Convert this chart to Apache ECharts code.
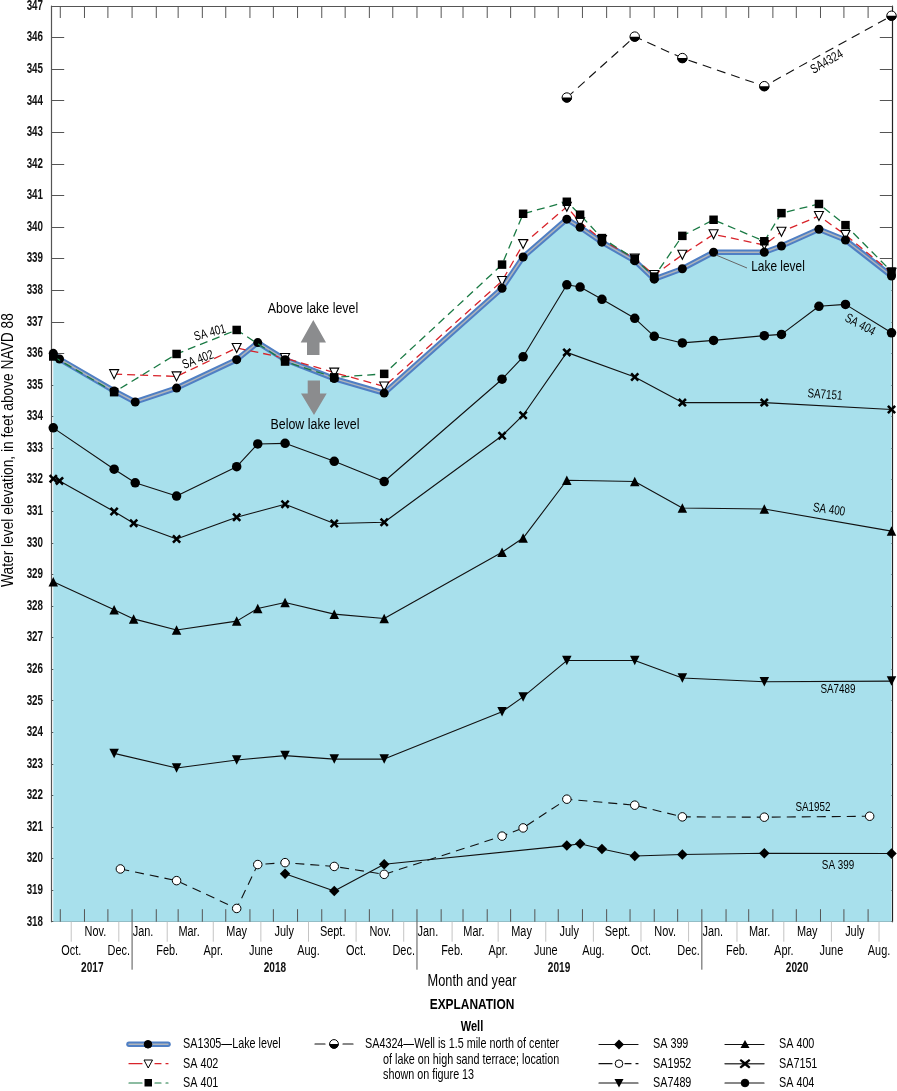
<!DOCTYPE html>
<html>
<head>
<meta charset="utf-8">
<style>
  html, body { margin: 0; padding: 0; background: #fff; }
  #chart { width: 897px; height: 1091px; }
</style>
<script src="https://cdn.jsdelivr.net/npm/echarts@6/dist/echarts.min.js"></script>
</head>
<body>
<div id="chart"></div>
<script>
// well readings, [date, feet above NAVD 88]
const sa1305 = [['2017-09-22', 336.0], ['2017-09-30', 335.82], ['2017-12-09', 334.81], ['2018-01-05', 334.46], ['2018-02-27', 334.9], ['2018-05-15', 335.8], ['2018-06-11', 336.34], ['2018-07-16', 335.8], ['2018-09-17', 335.2], ['2018-11-20', 334.74], ['2019-04-20', 338.06], ['2019-05-17', 339.05], ['2019-07-12', 340.25], ['2019-07-29', 339.99], ['2019-08-26', 339.52], ['2019-10-07', 338.93], ['2019-11-01', 338.35], ['2019-12-07', 338.68], ['2020-01-16', 339.2], ['2020-03-21', 339.2], ['2020-04-12', 339.4], ['2020-05-30', 339.93], ['2020-07-03', 339.59], ['2020-08-31', 338.45]]
const sa402 = [['2017-12-09', 335.34], ['2018-02-27', 335.27], ['2018-05-15', 336.17], ['2018-07-16', 335.85], ['2018-09-17', 335.39], ['2018-11-20', 334.95], ['2019-04-20', 338.29], ['2019-05-17', 339.46], ['2019-07-12', 340.64], ['2019-07-29', 340.15], ['2019-08-26', 339.59], ['2019-10-07', 339.0], ['2019-11-01', 338.48], ['2019-12-07', 339.12], ['2020-01-16', 339.77], ['2020-03-21', 339.43], ['2020-04-12', 339.85], ['2020-05-30', 340.35], ['2020-07-03', 339.75], ['2020-08-31', 338.55]]
const sa401 = [['2017-09-22', 335.9], ['2017-12-09', 334.77], ['2018-02-27', 335.98], ['2018-05-15', 336.74], ['2018-07-16', 335.74], ['2018-09-17', 335.24], ['2018-11-20', 335.35], ['2019-04-20', 338.81], ['2019-05-17', 340.42], ['2019-07-12', 340.8], ['2019-07-29', 340.39], ['2019-08-26', 339.65], ['2019-10-07', 338.99], ['2019-11-01', 338.43], ['2019-12-07', 339.72], ['2020-01-16', 340.23], ['2020-03-21', 339.55], ['2020-04-12', 340.44], ['2020-05-30', 340.73], ['2020-07-03', 340.06], ['2020-08-31', 338.59]]
const sa4324 = [['2019-07-12', 344.1], ['2019-10-07', 346.03], ['2019-12-07', 345.35], ['2020-03-21', 344.46], ['2020-08-31', 346.69]]
const sa404 = [['2017-09-22', 333.64], ['2017-12-09', 332.33], ['2018-01-05', 331.9], ['2018-02-27', 331.48], ['2018-05-15', 332.41], ['2018-06-11', 333.13], ['2018-07-16', 333.15], ['2018-09-17', 332.58], ['2018-11-20', 331.94], ['2019-04-20', 335.18], ['2019-05-17', 335.89], ['2019-07-12', 338.17], ['2019-07-29', 338.1], ['2019-08-26', 337.71], ['2019-10-07', 337.11], ['2019-11-01', 336.54], ['2019-12-07', 336.33], ['2020-01-16', 336.41], ['2020-03-21', 336.56], ['2020-04-12', 336.6], ['2020-05-30', 337.49], ['2020-07-03', 337.55], ['2020-08-31', 336.65]]
const sa7151 = [['2017-09-22', 332.03], ['2017-09-30', 331.96], ['2017-12-09', 330.99], ['2018-01-03', 330.62], ['2018-02-27', 330.12], ['2018-05-15', 330.81], ['2018-07-16', 331.22], ['2018-09-17', 330.61], ['2018-11-20', 330.65], ['2019-04-20', 333.39], ['2019-05-17', 334.04], ['2019-07-12', 336.03], ['2019-10-07', 335.25], ['2019-12-07', 334.44], ['2020-03-21', 334.44], ['2020-08-31', 334.22]]
const sa400 = [['2017-09-22', 328.77], ['2017-12-09', 327.88], ['2018-01-03', 327.59], ['2018-02-27', 327.24], ['2018-05-15', 327.52], ['2018-06-11', 327.92], ['2018-07-16', 328.11], ['2018-09-17', 327.74], ['2018-11-20', 327.6], ['2019-04-20', 329.7], ['2019-05-17', 330.15], ['2019-07-12', 331.98], ['2019-10-07', 331.94], ['2019-12-07', 331.1], ['2020-03-21', 331.07], ['2020-08-31', 330.37]]
const sa7489 = [['2017-12-09', 323.33], ['2018-02-27', 322.87], ['2018-05-15', 323.12], ['2018-07-16', 323.26], ['2018-09-17', 323.15], ['2018-11-20', 323.15], ['2019-04-20', 324.65], ['2019-05-17', 325.12], ['2019-07-12', 326.27], ['2019-10-07', 326.27], ['2019-12-07', 325.72], ['2020-03-21', 325.6], ['2020-08-31', 325.62]]
const sa1952 = [['2017-12-17', 319.67], ['2018-02-27', 319.3], ['2018-05-15', 318.42], ['2018-06-11', 319.81], ['2018-07-16', 319.87], ['2018-09-17', 319.75], ['2018-11-20', 319.5], ['2019-04-20', 320.71], ['2019-05-17', 320.97], ['2019-07-12', 321.88], ['2019-10-07', 321.69], ['2019-12-07', 321.32], ['2020-03-21', 321.31], ['2020-08-03', 321.34]]
const sa399 = [['2018-07-16', 319.52], ['2018-09-17', 318.97], ['2018-11-20', 319.82], ['2019-07-12', 320.41], ['2019-07-29', 320.47], ['2019-08-26', 320.3], ['2019-10-07', 320.08], ['2019-12-07', 320.13], ['2020-03-21', 320.17], ['2020-08-31', 320.16]]

const monthNames = ['Jan.', 'Feb.', 'Mar.', 'Apr.', 'May', 'June', 'July', 'Aug.', 'Sept.', 'Oct.', 'Nov.', 'Dec.']
const yearLabels = [['2017-11-11', '2017'], ['2018-07-03', '2018'], ['2019-07-02', '2019'], ['2020-05-02', '2020']]
const yearStarts = ['2018-01-01', '2019-01-01', '2020-01-01']
const elevationTicks = [318, 319, 320, 321, 322, 323, 324, 325, 326, 327, 328, 329, 330, 331, 332, 333, 334, 335, 336, 337, 338, 339, 340, 341, 342, 343, 344, 345, 346, 347]

const FONT = '"Liberation Sans", sans-serif'
const AXIS = '#555'
const NARROW = 0.76 // no condensed face installed, so text is squeezed
const X_SYMBOL = 'path://M2 0L5 3L8 0L10 2L7 5L10 8L8 10L5 7L2 10L0 8L3 5L0 2Z'

// month slots from Oct. 2017 to Aug. 2020: [start, middle, month]
const months = []
for (let i = 0; i < 35; i++) {
  const start = new Date(2017, 9 + i, 1)
  months.push([start.getTime(), new Date(2017, 9 + i, 15).getTime(), start.getMonth()])
}

function wellLine(name, data, symbol, size, extra) {
  return Object.assign({
    name: name,
    type: 'line',
    data: data,
    symbol: symbol,
    symbolSize: size,
    showAllSymbol: true,
    clip: false,
    z: 5,
    lineStyle: { color: '#111', width: 1.1 },
    itemStyle: { color: '#000', opacity: 1 }
  }, extra || {})
}

function monthTicks(params, api) {
  const i = params.dataIndex
  const x = api.coord([api.value(0), 347])[0]
  const mid = api.coord([api.value(1), 318])
  const top = api.coord([api.value(0), 347])[1]
  const bottom = mid[1]
  const firstRow = i % 2 === 1
  const line = (x1, y1, x2, y2, color) => ({
    type: 'line',
    shape: { x1: x1, y1: y1, x2: x2, y2: y2 },
    style: { stroke: color, lineWidth: 1 }
  })
  const children = [
    line(x, top, x, top + 12, AXIS),
    line(x, bottom - 12.5, x, bottom, AXIS),
    {
      type: 'text',
      x: mid[0],
      y: bottom + (firstRow ? 10 : 29.5),
      scaleX: 0.78,
      style: { text: monthNames[api.value(2)], font: '14px ' + FONT, fill: '#000', align: 'center', verticalAlign: 'middle' }
    }
  ]
  if (!firstRow) {
    children.push(line(mid[0], bottom, mid[0], bottom + 20, '#c4c4c4'))
  }
  return { type: 'group', children: children }
}

function yearTicks(params, api) {
  const p = api.coord([api.value(0), 318])
  return {
    type: 'line',
    shape: { x1: p[0], y1: p[1], x2: p[0], y2: p[1] + 48 },
    style: { stroke: AXIS, lineWidth: 1 }
  }
}

function yearText(params, api) {
  const p = api.coord([api.value(0), 318])
  return {
    type: 'text',
    x: p[0],
    y: p[1] + 46.5,
    scaleX: 0.72,
    style: { text: yearLabels[params.dataIndex][1], font: 'bold 14px ' + FONT, fill: '#111', align: 'center', verticalAlign: 'middle' }
  }
}

function elevationText(params, api) {
  const p = api.coord([new Date(2017, 8, 20).getTime(), api.value(1)])
  return {
    type: 'text',
    x: 43,
    y: p[1],
    scaleX: 0.7,
    style: { text: String(api.value(1)), font: 'bold 14px ' + FONT, fill: '#111', align: 'right', verticalAlign: 'middle' }
  }
}

function label(text, x, y, rotate, size, weight, scale) {
  return {
    type: 'text',
    x: x,
    y: y,
    rotation: (rotate || 0) * Math.PI / 180,
    scaleX: scale || NARROW,
    z: 20,
    style: {
      text: text,
      font: (weight || 'normal') + ' ' + (size || 13) + 'px ' + FONT,
      fill: '#000',
      align: 'center',
      verticalAlign: 'middle'
    }
  }
}

function legendText(text, x, y) {
  return {
    type: 'text',
    x: x,
    y: y,
    scaleX: NARROW,
    z: 20,
    style: { text: text, font: '14.2px ' + FONT, fill: '#000', align: 'left', verticalAlign: 'middle' }
  }
}

function legendLine(x1, x2, y, color, dash, width) {
  return {
    type: 'line',
    z: 20,
    shape: { x1: x1, y1: y, x2: x2, y2: y },
    style: { stroke: color, lineWidth: width || 1.2, lineDash: dash || null, lineCap: 'round' }
  }
}

function legendCircle(x, y, r, fill) {
  return { type: 'circle', z: 21, shape: { cx: x, cy: y, r: r }, style: { fill: fill || '#000', stroke: '#000', lineWidth: 1 } }
}

function legendPoly(points, fill) {
  return { type: 'polygon', z: 21, shape: { points: points }, style: { fill: fill || '#000', stroke: '#000', lineWidth: 1 } }
}

const graphics = [
  // y axis title and x axis title
  label('Water level elevation, in feet above NAVD 88', 9, 450, 90, 16, 'normal', 0.86),
  label('Month and year', 472, 982, 0, 16, 'normal', 0.8),
  label('EXPLANATION', 472, 1005, 0, 15.5, 'bold', 0.77),
  label('Well', 472, 1027, 0, 14, 'bold', 0.79),

  // above / below lake level
  label('Above lake level', 313, 309, 0, 15.5, 'normal', 0.8),
  label('Below lake level', 315, 425, 0, 15.5, 'normal', 0.8),
  { type: 'polygon', z: 20, shape: { points: [[313.3, 320], [326, 342.5], [319.5, 342.5], [319.5, 355], [307, 355], [307, 342.5], [300.7, 342.5]] }, style: { fill: '#8b8c8e' } },
  { type: 'polygon', z: 20, shape: { points: [[307.7, 380.5], [320, 380.5], [320, 393.5], [326.7, 393.5], [314, 415], [301, 393.5], [307.7, 393.5]] }, style: { fill: '#8b8c8e' } },

  // well names next to the lines
  label('SA 401', 210, 333, 15),
  label('SA 402', 198, 360, 20),
  label('Lake level', 778, 267, 0, 14.5, 'normal', 0.82),
  { type: 'line', z: 20, shape: { x1: 716, y1: 255, x2: 747, y2: 268 }, style: { stroke: '#666', lineWidth: 1 } },
  label('SA 404', 860, 325, -28),
  label('SA7151', 825, 395, -4),
  label('SA 400', 829, 510, -8),
  label('SA7489', 838, 689, 0),
  label('SA1952', 813, 807, 0),
  label('SA 399', 838, 865, 0),
  label('SA4324', 827, 62, 30),

  // legend
  legendLine(129, 168, 1044.3, '#4f7fc4', null, 5.5),
  legendLine(129, 168, 1044.3, '#b0b5bb', null, 1.5),
  legendCircle(148, 1044.3, 3.8),
  legendText('SA1305\u2014Lake level', 183, 1044.5),

  legendLine(129, 142, 1063.7, '#d8232a'),
  legendLine(155, 168, 1063.7, '#d8232a', [6, 5]),
  legendPoly([[144, 1060], [152.5, 1060], [148.2, 1068]], '#fff'),
  legendText('SA 402', 183, 1064),

  legendLine(129, 142, 1083, '#1a7a44'),
  legendLine(155, 168, 1083, '#1a7a44', [6, 5]),
  { type: 'rect', z: 21, shape: { x: 144.5, y: 1079, width: 7.5, height: 7.5 }, style: { fill: '#000' } },
  legendText('SA 401', 183, 1083),

  legendLine(315, 325, 1044, '#111'),
  legendLine(343, 353, 1044, '#111'),
  legendCircle(334, 1044, 4.4, '#fff'),
  { type: 'sector', z: 22, shape: { cx: 334, cy: 1044, r: 4.6, r0: 0, startAngle: 0, endAngle: Math.PI, clockwise: true }, style: { fill: '#000' } },
  legendText('SA4324\u2014Well is 1.5 mile north of center', 365, 1044.5),
  legendText('of lake on high sand terrace; location', 383, 1060),
  legendText('shown on figure 13', 383, 1075),

  legendLine(599, 638, 1044.5, '#111'),
  { type: 'polygon', z: 21, shape: { points: [[619, 1039.5], [624, 1044.5], [619, 1049.5], [614, 1044.5]] }, style: { fill: '#000' } },
  legendText('SA 399', 653, 1044.5),

  legendLine(599, 612, 1063.7, '#111'),
  legendLine(625, 638, 1063.7, '#111', [6, 5]),
  legendCircle(619, 1063.7, 3.8, '#fff'),
  legendText('SA1952', 653, 1064),

  legendLine(599, 638, 1083, '#111'),
  { type: 'polygon', z: 21, shape: { points: [[614.5, 1079], [623.5, 1079], [619, 1087.5]] }, style: { fill: '#000' } },
  legendText('SA7489', 653, 1083),

  legendLine(725, 764, 1044.5, '#111'),
  { type: 'polygon', z: 21, shape: { points: [[745, 1040], [749.5, 1048], [740.5, 1048]] }, style: { fill: '#000' } },
  legendText('SA 400', 779, 1044.5),

  legendLine(725, 764, 1063.7, '#444', null, 1.4),
  { type: 'polygon', z: 21, shape: { points: [[741, 1059], [745, 1062], [749, 1059], [750.5, 1060.5], [747, 1063.7], [750.5, 1067], [749, 1068.5], [745, 1065.4], [741, 1068.5], [739.5, 1067], [743, 1063.7], [739.5, 1060.5]] }, style: { fill: '#000' } },
  legendText('SA7151', 779, 1064),

  legendLine(725, 764, 1083, '#111'),
  legendCircle(745, 1083, 3.8),
  legendText('SA 404', 779, 1083.5)
]

const option = {
  backgroundColor: '#fff',
  animation: false,
  textStyle: { fontFamily: FONT },
  grid: { left: 51.7, right: 4.7, top: 6, bottom: 169.3, containLabel: false },
  xAxis: [
    {
      type: 'time',
      position: 'bottom',
      min: '2017-09-20',
      max: '2020-09-01',
      axisLine: { onZero: false, lineStyle: { color: AXIS, width: 1.2 } },
      axisTick: { show: false },
      axisLabel: { show: false },
      splitLine: { show: false }
    },
    {
      type: 'time',
      position: 'top',
      min: '2017-09-20',
      max: '2020-09-01',
      axisLine: { onZero: false, lineStyle: { color: AXIS, width: 1.2 } },
      axisTick: { show: false },
      axisLabel: { show: false },
      splitLine: { show: false }
    }
  ],
  yAxis: [
    {
      type: 'value',
      position: 'left',
      min: 318,
      max: 347,
      interval: 1,
      axisLine: { show: true, onZero: false, lineStyle: { color: AXIS, width: 1.2 } },
      axisTick: { show: true, inside: true, length: 12.5, lineStyle: { color: AXIS, width: 1 } },
      axisLabel: { show: false },
      splitLine: { show: false }
    },
    {
      type: 'value',
      position: 'right',
      min: 318,
      max: 347,
      interval: 1,
      axisLine: { show: true, onZero: false, lineStyle: { color: '#222', width: 1.2 } },
      axisTick: { show: true, inside: true, length: 12.5, lineStyle: { color: AXIS, width: 1 } },
      axisLabel: { show: false },
      splitLine: { show: false }
    }
  ],
  graphic: graphics,
  series: [
    {
      name: 'SA1305 area',
      type: 'line',
      data: sa1305,
      symbol: 'none',
      clip: false,
      z: 1,
      lineStyle: { color: '#4f7fc4', width: 5.5, join: 'round' },
      areaStyle: { color: '#a8e0ec', opacity: 1, origin: 'start' }
    },
    wellLine('SA 401', sa401, 'rect', 8.5, { lineStyle: { color: '#1a7a44', width: 1.3, type: [8, 5] }, z: 4 }),
    wellLine('SA 402', sa402, 'triangle', 9, {
      symbolRotate: 180,
      lineStyle: { color: '#d8232a', width: 1.3, type: [8, 5] },
      itemStyle: { color: '#fff', borderColor: '#000', borderWidth: 1.1 },
      z: 3
    }),
    wellLine('SA1305', sa1305, 'circle', 9, { lineStyle: { color: '#b0b5bb', width: 1.5 }, z: 3 }),
    wellLine('SA4324', sa4324, 'circle', 9.5, {
      lineStyle: { color: '#111', width: 1.1, type: [9, 6] },
      itemStyle: { color: '#fff', borderColor: '#000', borderWidth: 1 }
    }),
    {
      name: 'SA4324 half',
      type: 'scatter',
      data: sa4324,
      symbol: 'path://M0 0A1 1 0 0 0 2 0Z',
      symbolSize: [10, 5],
      symbolOffset: [0, 2.5],
      clip: false,
      z: 6,
      itemStyle: { color: '#000', opacity: 1 }
    },
    wellLine('SA 404', sa404, 'circle', 9.5),
    wellLine('SA7151', sa7151, X_SYMBOL, 9),
    wellLine('SA 400', sa400, 'triangle', 9.5),
    wellLine('SA7489', sa7489, 'triangle', 9.5, { symbolRotate: 180 }),
    wellLine('SA1952', sa1952, 'circle', 8.5, {
      lineStyle: { color: '#111', width: 1.1, type: [9, 6] },
      itemStyle: { color: '#fff', borderColor: '#000', borderWidth: 1 }
    }),
    wellLine('SA 399', sa399, 'diamond', 10.5),
    {
      type: 'custom',
      data: months,
      encode: { x: 0 },
      renderItem: monthTicks,
      clip: false,
      silent: true,
      z: 8
    },
    {
      type: 'custom',
      data: yearStarts.map(d => [new Date(d + 'T00:00:00').getTime()]),
      encode: { x: 0 },
      renderItem: yearTicks,
      clip: false,
      silent: true,
      z: 8
    },
    {
      type: 'custom',
      data: yearLabels.map(d => [new Date(d[0] + 'T00:00:00').getTime()]),
      encode: { x: 0 },
      renderItem: yearText,
      clip: false,
      silent: true,
      z: 8
    },
    {
      type: 'custom',
      data: elevationTicks.map(v => [new Date(2017, 8, 20).getTime(), v]),
      encode: { x: 0, y: 1 },
      renderItem: elevationText,
      clip: false,
      silent: true,
      z: 8
    }
  ]
}

const chart = echarts.init(document.getElementById('chart'), null, { renderer: 'canvas' })
chart.setOption(option)
</script>
</body>
</html>
